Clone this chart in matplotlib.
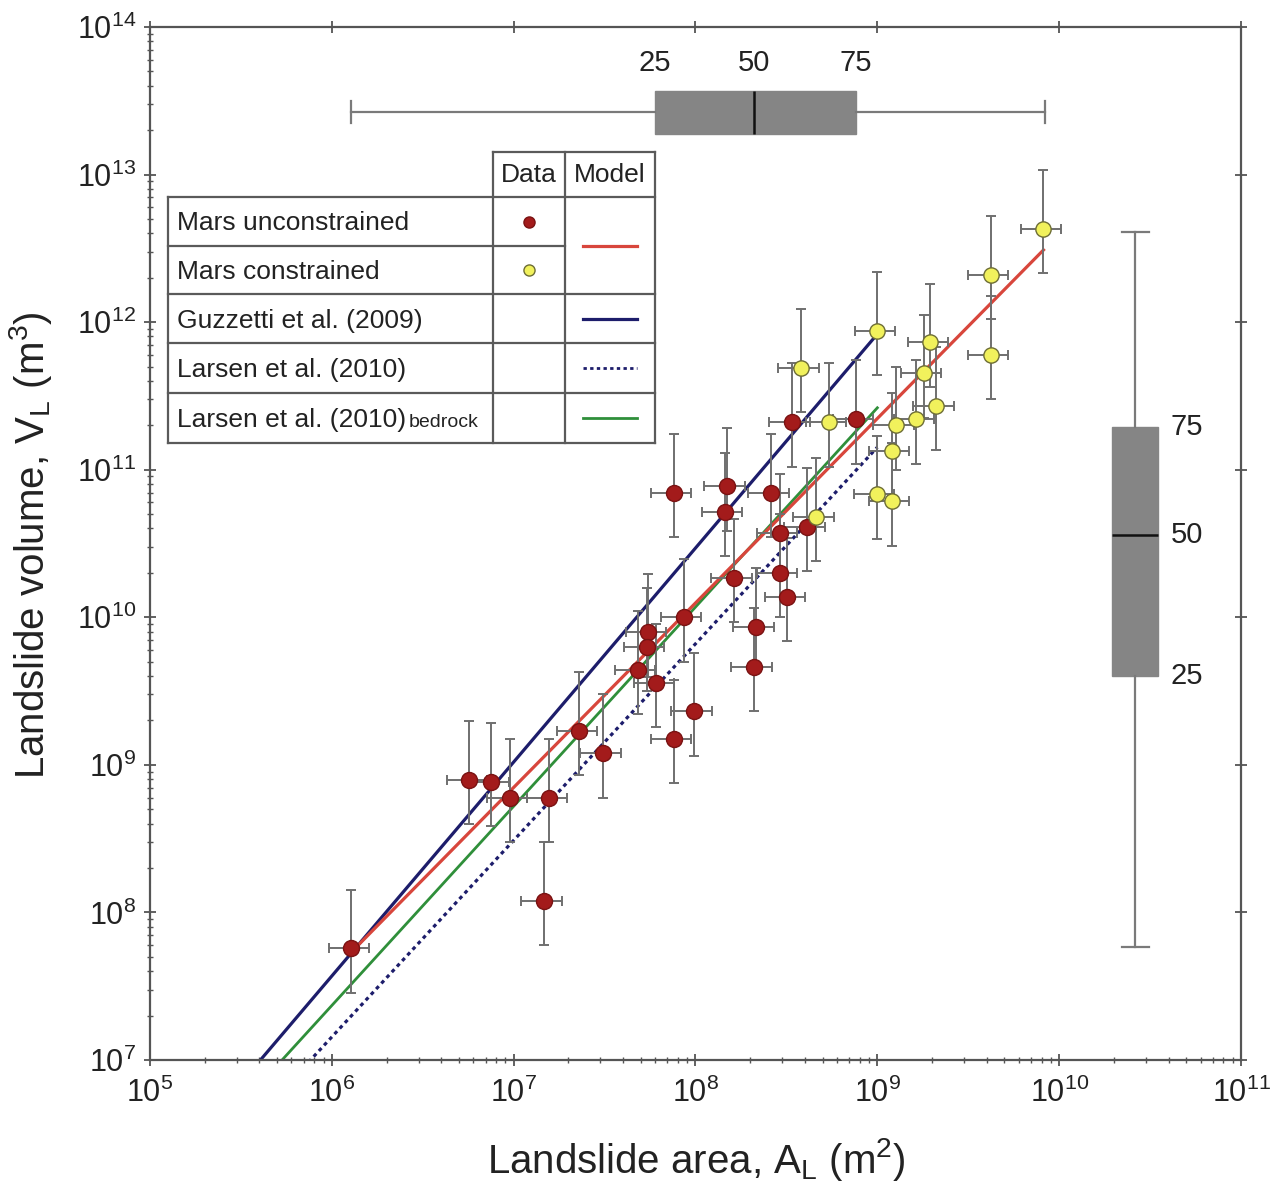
import numpy as np
import matplotlib
matplotlib.use("Agg")
import matplotlib.pyplot as plt
from matplotlib.lines import Line2D
from matplotlib.ticker import LogLocator, NullFormatter, FixedLocator

plt.rcParams['font.family'] = ['Liberation Sans', 'DejaVu Sans']
plt.rcParams['mathtext.fontset'] = 'custom'
plt.rcParams['mathtext.rm'] = 'Liberation Sans'
plt.rcParams['mathtext.it'] = 'Liberation Sans:italic'
plt.rcParams['mathtext.default'] = 'regular'

# ---------------------------------------------------------------- data
# Mars landslides, area A_L (m^2) and volume V_L (m^3)
unconstrained_area = [1.28e6, 5.7e6, 7.5e6, 9.5e6, 1.57e7, 1.47e7, 2.3e7, 3.1e7,
                      5.5e7, 5.4e7, 4.8e7, 6.1e7, 8.6e7, 9.8e7, 7.6e7, 7.6e7,
                      1.49e8, 1.45e8, 2.6e8, 1.63e8, 2.9e8, 3.2e8, 2.15e8, 2.1e8,
                      3.4e8, 7.6e8, 2.9e8, 4.1e8]
unconstrained_volume = [5.7e7, 7.9e8, 7.7e8, 6.0e8, 6.0e8, 1.2e8, 1.7e9, 1.2e9,
                        7.9e9, 6.3e9, 4.4e9, 3.6e9, 1.0e10, 2.3e9, 1.5e9, 7.0e10,
                        7.7e10, 5.2e10, 7.0e10, 1.86e10, 2.0e10, 1.38e10, 8.6e9, 4.6e9,
                        2.1e11, 2.2e11, 3.75e10, 4.1e10]
constrained_area = [8.2e9, 4.2e9, 4.2e9, 1.0e9, 1.96e9, 1.8e9, 3.8e8, 2.1e9,
                    1.64e9, 1.27e9, 1.2e9, 9.9e8, 1.2e9, 5.4e8, 4.6e8]
constrained_volume = [4.3e12, 2.1e12, 6.0e11, 8.7e11, 7.3e11, 4.5e11, 4.9e11, 2.7e11,
                      2.2e11, 2.0e11, 1.33e11, 6.8e10, 6.1e10, 2.1e11, 4.8e10]

# uncertainties: relative area error, multiplicative volume bounds
area_rel_err = 0.25
volume_factor_hi = 2.5
volume_factor_lo = 0.5

# power-law models V = alpha * A**gamma, with the area range they are drawn over
mars_alpha, mars_gamma = 1.25, 1.25
guzzetti_alpha, guzzetti_gamma = 0.074, 1.450
larsen_alpha, larsen_gamma = 0.146, 1.332
larsen_bedrock_alpha, larsen_bedrock_gamma = 0.186, 1.35
literature_area_range = [1e5, 1e9]

# distribution summaries (whisker low, 25th, 50th, 75th, whisker high)
area_summary = [1.28e6, 6.0e7, 2.1e8, 7.6e8, 8.4e9]
volume_summary = [5.8e7, 4.0e9, 3.6e10, 1.96e11, 4.1e12]
percentile_labels = ['25', '50', '75']

# axis decades
area_decades = [1e5, 1e6, 1e7, 1e8, 1e9, 1e10, 1e11]
volume_decades = [1e7, 1e8, 1e9, 1e10, 1e11, 1e12, 1e13, 1e14]

legend_rows = ['Mars unconstrained', 'Mars constrained', 'Guzzetti et al. (2009)',
               'Larsen et al. (2010)', 'Larsen et al. (2010)']
legend_header = ['Data', 'Model']

# ---------------------------------------------------------------- figure
W, H = 1279, 1185
fig = plt.figure(figsize=(W / 100, H / 100), dpi=100)


def fx(x):
    return x / W


def fy(y):
    return 1 - y / H


ax_l, ax_r, ax_t, ax_b = 150, 1241, 27, 1060
ax = fig.add_axes([fx(ax_l), fy(ax_b), (ax_r - ax_l) / W, (ax_b - ax_t) / H])
ax.set_xscale('log')
ax.set_yscale('log')
xlim = (area_decades[0], area_decades[-1])
ylim = (volume_decades[0], volume_decades[-1])
ax.set_xlim(*xlim)
ax.set_ylim(*ylim)

spine_col = '#555555'
for s in ax.spines.values():
    s.set_color(spine_col)
    s.set_linewidth(1.6)

for axis, dec in ((ax.xaxis, area_decades), (ax.yaxis, volume_decades)):
    axis.set_major_locator(FixedLocator(dec))
    minor = [m * d for d in dec[:-1] for m in range(2, 10)]
    axis.set_minor_locator(FixedLocator(minor))
    axis.set_minor_formatter(NullFormatter())
ax.tick_params(which='both', direction='inout', colors=spine_col, labelcolor='#222222',
               labelsize=22)
ax.tick_params(which='major', length=8, width=1.3, top=True, right=True)
ax.tick_params(which='minor', length=5, width=1.0, top=False, right=False)
ax.tick_params(axis='y', pad=6)
ax.tick_params(axis='x', pad=9)

ax.set_xlabel(r'Landslide area, $A_{\mathrm{L}}$ (m$^{2}$)', fontsize=29,
              color='#222222', va='center')
ax.xaxis.set_label_coords(0.5005, -0.0968)
ax.set_ylabel(r'Landslide volume, $V_{\mathrm{L}}$ (m$^{3}$)', fontsize=29,
              color='#222222', va='center')
ax.yaxis.set_label_coords(-0.1098, 0.4985)

# ---------------------------------------------------------------- models
navy = '#1d1d6b'
red_line = '#d8463c'
green = '#2f8f3a'
lit_A = np.array(literature_area_range)
ax.plot(lit_A, guzzetti_alpha * lit_A ** guzzetti_gamma, color=navy, lw=2.3, zorder=2)
ax.plot(lit_A, larsen_alpha * lit_A ** larsen_gamma, color=navy, lw=2.3,
        ls=(0, (1.2, 1.2)), zorder=2)
ax.plot(lit_A, larsen_bedrock_alpha * lit_A ** larsen_bedrock_gamma, color=green,
        lw=2.0, zorder=2)
all_area = np.array(unconstrained_area + constrained_area)
mars_A = np.array([all_area.min(), all_area.max()])
ax.plot(mars_A, mars_alpha * mars_A ** mars_gamma, color=red_line, lw=2.3, zorder=2)

# ---------------------------------------------------------------- data points
err_col = '#6f6f6f'
for area, vol, face, edge, ms in [
        (unconstrained_area, unconstrained_volume, '#a31b1b', '#7a1212', 11.5),
        (constrained_area, constrained_volume, '#f1f15c', '#6d6d35', 11.0)]:
    a = np.array(area)
    v = np.array(vol)
    xerr = np.vstack([a * area_rel_err, a * area_rel_err])
    yerr = np.vstack([v - v * volume_factor_lo, v * volume_factor_hi - v])
    ax.errorbar(a, v, xerr=xerr, yerr=yerr, fmt='none', ecolor=err_col,
                elinewidth=1.4, capsize=3.5, capthick=1.4, zorder=3)
    ax.plot(a, v, 'o', ms=ms, mfc=face, mec=edge, mew=1.0, zorder=4, ls='none')

# ---------------------------------------------------------------- summary boxes
box_face = '#858585'


def box_stats(s):
    return dict(whislo=s[0], q1=s[1], med=s[2], q3=s[3], whishi=s[4], fliers=[])


box_kw = dict(patch_artist=True, showfliers=False, manage_ticks=False,
              boxprops=dict(facecolor=box_face, edgecolor=box_face, linewidth=1.0),
              medianprops=dict(color='#111111', linewidth=1.8),
              whiskerprops=dict(color='#7a7a7a', linewidth=1.6),
              capprops=dict(color='#7a7a7a', linewidth=1.6))

# horizontal box for area, above the data
top_y0, top_y1 = 62, 162
ax_top = fig.add_axes([fx(ax_l), fy(top_y1), (ax_r - ax_l) / W, (top_y1 - top_y0) / H])
ax_top.set_xscale('log')
ax_top.set_xlim(*xlim)
ax_top.set_ylim(0, 1)
ax_top.axis('off')
ax_top.bxp([box_stats(area_summary)], positions=[0.5], widths=0.43,
           capwidths=0.22, orientation='horizontal', **box_kw)
for q, lab in zip(area_summary[1:4], percentile_labels):
    ax_top.text(q, 0.99, lab, ha='center', va='center', fontsize=21,
                color='#222222', clip_on=False)

# vertical box for volume, right of the data
rx0, rx1 = 1085, 1185
ax_right = fig.add_axes([fx(rx0), fy(ax_b), (rx1 - rx0) / W, (ax_b - ax_t) / H])
ax_right.set_yscale('log')
ax_right.set_ylim(*ylim)
ax_right.set_xlim(0, 1)
ax_right.axis('off')
ax_right.bxp([box_stats(volume_summary)], positions=[0.5], widths=0.46,
             capwidths=0.27, orientation='vertical', **box_kw)
for q, lab in zip(volume_summary[1:4], percentile_labels):
    ax_right.text(0.86, q, lab, ha='left', va='center', fontsize=21,
                  color='#222222', clip_on=False)

# ---------------------------------------------------------------- legend table
grid_col = '#5a5a5a'


def hline(y, x0, x1):
    fig.add_artist(Line2D([fx(x0), fx(x1)], [fy(y), fy(y)], color=grid_col, lw=1.6,
                          transform=fig.transFigure, zorder=6))


def vline(x, y0, y1):
    fig.add_artist(Line2D([fx(x), fx(x)], [fy(y0), fy(y1)], color=grid_col, lw=1.6,
                          transform=fig.transFigure, zorder=6))


tl, c1, c2, tr = 168, 493, 565, 655
head_top = 152
rows_y = [197, 246, 294, 343, 393, 443]
fig.patches.append(plt.Rectangle((fx(tl), fy(rows_y[-1])), (tr - tl) / W,
                                 (rows_y[-1] - rows_y[0]) / H, transform=fig.transFigure,
                                 facecolor='white', edgecolor='none', zorder=5))
fig.patches.append(plt.Rectangle((fx(c1), fy(rows_y[0])), (tr - c1) / W,
                                 (rows_y[0] - head_top) / H, transform=fig.transFigure,
                                 facecolor='white', edgecolor='none', zorder=5))
hline(head_top, c1, tr)
hline(rows_y[0], tl, tr)
hline(rows_y[1], tl, c2)
for y in rows_y[2:]:
    hline(y, tl, tr)
vline(tl, rows_y[0], rows_y[-1])
for x in (c1, c2, tr):
    vline(x, head_top, rows_y[-1])

fig.text(fx((c1 + c2) / 2), fy((head_top + rows_y[0]) / 2), legend_header[0],
         ha='center', va='center', fontsize=19, color='#222222', zorder=7)
fig.text(fx((c2 + tr) / 2), fy((head_top + rows_y[0]) / 2), legend_header[1],
         ha='center', va='center', fontsize=19, color='#222222', zorder=7)

row_mid = [(rows_y[i] + rows_y[i + 1]) / 2 for i in range(5)]
baseline_shift = 9
for i, lab in enumerate(legend_rows):
    t = fig.text(fx(177), fy(row_mid[i] + baseline_shift), lab, ha='left',
                 va='baseline', fontsize=19, color='#222222', zorder=7)
fig.canvas.draw()
bb = t.get_window_extent()
fig.text(bb.x1 / W + 3 / W, fy(row_mid[4] + baseline_shift), 'bedrock', ha='left',
         va='baseline', fontsize=14, color='#222222', zorder=7)

dx = (c1 + c2) / 2
fig.add_artist(Line2D([fx(dx)], [fy(row_mid[0])], marker='o', ms=8, mfc='#a31b1b',
                      mec='#7a1212', ls='none', transform=fig.transFigure, zorder=7))
fig.add_artist(Line2D([fx(dx)], [fy(row_mid[1])], marker='o', ms=8, mfc='#f1f15c',
                      mec='#6d6d35', ls='none', transform=fig.transFigure, zorder=7))
mx0, mx1 = 583, 637
for y, col, ls, lw in [(rows_y[1], red_line, '-', 2.3), (row_mid[2], navy, '-', 2.3),
                       (row_mid[3], navy, (0, (1.2, 1.2)), 2.0),
                       (row_mid[4], green, '-', 2.0)]:
    fig.add_artist(Line2D([fx(mx0), fx(mx1)], [fy(y), fy(y)], color=col, ls=ls, lw=lw,
                          transform=fig.transFigure, zorder=7))

fig.savefig('out.png', dpi=100)
